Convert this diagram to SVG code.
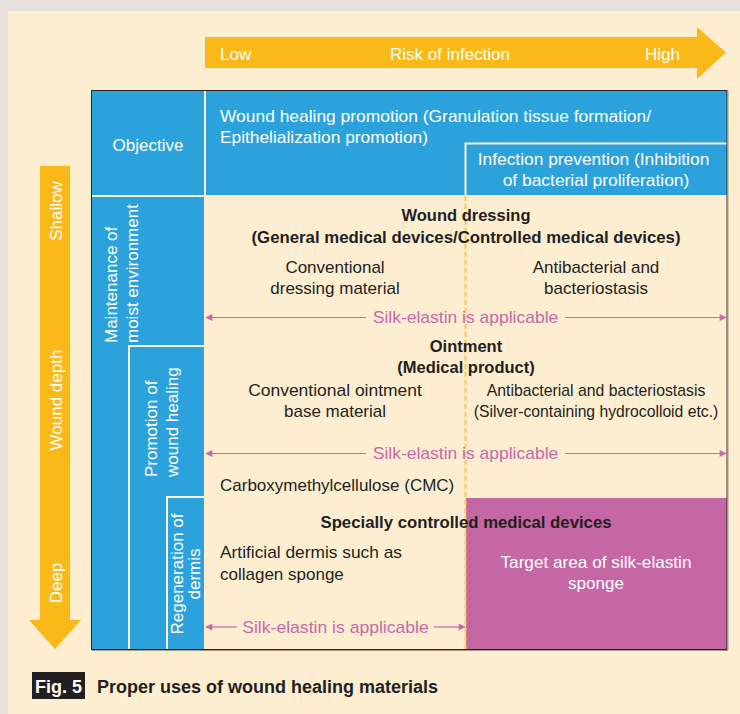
<svg xmlns="http://www.w3.org/2000/svg" width="740" height="714" viewBox="0 0 740 714">
<defs>
<style>
.t{font-family:"Liberation Sans",Arial,sans-serif;font-size:17px;fill:#231f20}
.b{font-weight:bold;font-size:16.5px}
.w{fill:#ffffff}
.m{fill:#c869a9}
.c{text-anchor:middle}
.sep{stroke:#fdf0d6;stroke-width:2;fill:none}
.silk{stroke:#c869a9;stroke-width:1.2;fill:none}
</style>
<marker id="ah" viewBox="0 0 10 10" refX="9" refY="5" markerWidth="9" markerHeight="7" markerUnits="userSpaceOnUse" orient="auto-start-reverse">
<path d="M0,0 L10,5 L0,10 Z" fill="#c869a9"/>
</marker>
</defs>
<rect x="0" y="0" width="740" height="714" fill="#e6dfda"/>
<rect x="8" y="11" width="732" height="703" fill="#fdeed2"/>

<g id="risk-arrow">
<path d="M205,37 H697 V27 L726,52.5 L697,79 V68 H205 Z" fill="#fbb919"/>
<text class="t w" x="220" y="60">Low</text>
<text class="t w c" x="450" y="60">Risk of infection</text>
<text class="t w" x="645" y="60">High</text>
</g>

<g id="depth-arrow">
<path d="M40,166 H70 V620 H81 L55,649 L29,620 H40 Z" fill="#fbb919"/>
<text class="t w c" transform="translate(62,211) rotate(-90)">Shallow</text>
<text class="t w c" transform="translate(62,400) rotate(-90)">Wound depth</text>
<text class="t w c" transform="translate(62,583) rotate(-90)">Deep</text>
</g>

<g id="objective-row">
<rect x="92" y="91" width="635" height="104" fill="#2ba2dc"/>
<line class="sep" x1="205" y1="91" x2="205" y2="195"/>
<text class="t w c" x="148" y="151">Objective</text>
<text class="t w" x="220" y="122" textLength="431" lengthAdjust="spacingAndGlyphs">Wound healing promotion (Granulation tissue formation/</text>
<text class="t w" x="220" y="143" textLength="208" lengthAdjust="spacingAndGlyphs">Epithelialization promotion)</text>
</g>

<g id="infection-prevention">
<path class="sep" d="M465.5,195 V143.5 H727"/>
<text class="t w c" x="593.5" y="165" textLength="231.6" lengthAdjust="spacingAndGlyphs">Infection prevention (Inhibition</text>
<text class="t w c" x="596" y="186" textLength="186.6" lengthAdjust="spacingAndGlyphs">of bacterial proliferation)</text>
</g>

<g id="maintenance">
<rect x="92" y="197" width="112" height="452" fill="#2ba2dc"/>
<text class="t w" transform="translate(117,343) rotate(-90)">Maintenance of</text>
<text class="t w" transform="translate(138,343) rotate(-90)">moist environment</text>
</g>

<g id="promotion">
<path class="sep" d="M129,649 V346 H204"/>
<text class="t w" transform="translate(157,477) rotate(-90)">Promotion of</text>
<text class="t w" transform="translate(178,477) rotate(-90)">wound healing</text>
</g>

<g id="regeneration">
<path class="sep" d="M167,649 V497 H204"/>
<text class="t w c" transform="translate(183,574) rotate(-90)">Regeneration of</text>
<text class="t w c" transform="translate(200,574) rotate(-90)">dermis</text>
</g>

<g id="target-area">
<rect x="466" y="498" width="261" height="151" fill="#c566a5"/>
<text class="t w c" x="596" y="568" textLength="191" lengthAdjust="spacingAndGlyphs">Target area of silk-elastin</text>
<text class="t w c" x="596" y="589">sponge</text>
</g>

<line x1="465.5" y1="196" x2="465.5" y2="649" stroke="#fcc55a" stroke-width="2" stroke-dasharray="5 3"/>

<g id="wound-dressing">
<text class="t b c" x="466" y="221">Wound dressing</text>
<text class="t b c" x="466" y="243" textLength="429" lengthAdjust="spacingAndGlyphs">(General medical devices/Controlled medical devices)</text>
<text class="t c" x="335" y="273">Conventional</text>
<text class="t c" x="335" y="294">dressing material</text>
<text class="t c" x="596" y="273">Antibacterial and</text>
<text class="t c" x="596" y="294">bacteriostasis</text>
</g>

<g id="ointment">
<text class="t b c" x="466" y="352">Ointment</text>
<text class="t b c" x="466" y="373">(Medical product)</text>
<text class="t c" x="335" y="396" textLength="173.7" lengthAdjust="spacingAndGlyphs">Conventional ointment</text>
<text class="t c" x="335" y="417">base material</text>
<text class="t c" x="596" y="396" textLength="218.6" lengthAdjust="spacingAndGlyphs">Antibacterial and bacteriostasis</text>
<text class="t c" x="596" y="417" textLength="244.6" lengthAdjust="spacingAndGlyphs">(Silver-containing hydrocolloid etc.)</text>
<text class="t" x="220" y="491">Carboxymethylcellulose (CMC)</text>
</g>

<g id="special-devices">
<text class="t b c" x="466" y="528" textLength="291" lengthAdjust="spacingAndGlyphs">Specially controlled medical devices</text>
<text class="t" x="220" y="558" textLength="182" lengthAdjust="spacingAndGlyphs">Artificial dermis such as</text>
<text class="t" x="220" y="580">collagen sponge</text>
</g>

<g id="connectors">
<line class="silk" x1="366" y1="317.5" x2="206" y2="317.5" marker-end="url(#ah)"/>
<line class="silk" x1="565" y1="317.5" x2="726" y2="317.5" marker-end="url(#ah)"/>
<text class="t m c" x="465.5" y="323" textLength="185.5" lengthAdjust="spacingAndGlyphs">Silk-elastin is applicable</text>
<line class="silk" x1="366" y1="453.5" x2="206" y2="453.5" marker-end="url(#ah)"/>
<line class="silk" x1="565" y1="453.5" x2="726" y2="453.5" marker-end="url(#ah)"/>
<text class="t m c" x="465.5" y="459" textLength="185.5" lengthAdjust="spacingAndGlyphs">Silk-elastin is applicable</text>
<line class="silk" x1="237" y1="627" x2="206" y2="627" marker-end="url(#ah)"/>
<line class="silk" x1="434" y1="627" x2="465" y2="627" marker-end="url(#ah)"/>
<text class="t m c" x="335.5" y="633" textLength="186.5" lengthAdjust="spacingAndGlyphs">Silk-elastin is applicable</text>
</g>

<rect x="91.5" y="90.5" width="635.5" height="559" fill="none" stroke="#2a2624" stroke-width="1"/>
<line x1="92" y1="650.5" x2="728" y2="650.5" stroke="#a69a86" stroke-width="1"/>
<line x1="728" y1="91" x2="728" y2="650" stroke="#a69a86" stroke-width="1"/>

<g id="caption">
<rect x="32" y="672" width="53" height="27" fill="#231f20"/>
<text class="t w c" x="58.5" y="693" style="font-weight:bold;font-size:18px">Fig. 5</text>
<text class="t" x="97" y="693" style="font-weight:bold;font-size:18px">Proper uses of wound healing materials</text>
</g>
</svg>
